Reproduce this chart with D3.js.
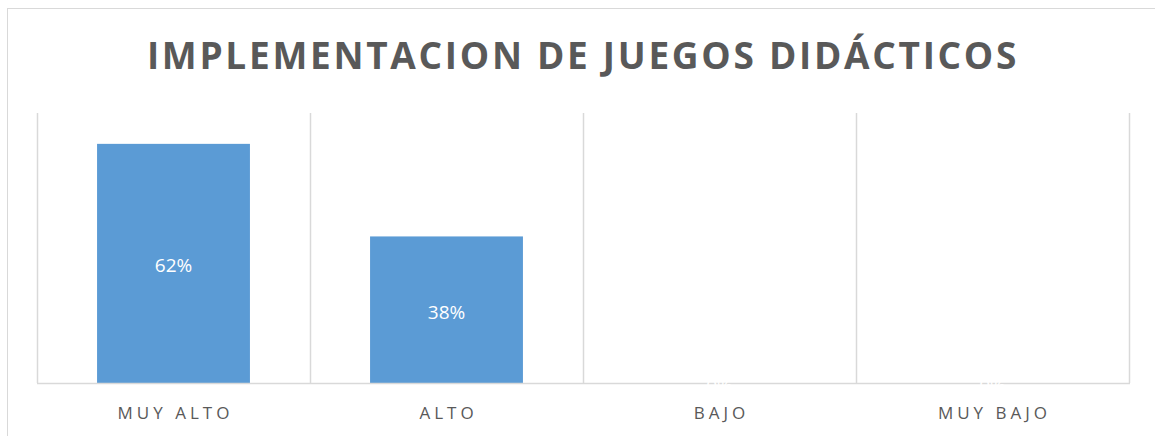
<!DOCTYPE html>
<html><head><meta charset="utf-8">
<script src="https://cdn.jsdelivr.net/npm/d3@7"></script>
<style>body{margin:0;background:#fff}svg{display:block}</style>
</head><body>
<script>
const categories = ["MUY ALTO", "ALTO", "BAJO", "MUY BAJO"];
const values = [0.62, 0.38, 0, 0];
const labels = ["62%", "38%", "0%", "0%"];
const title = "IMPLEMENTACION DE JUEGOS DIDÁCTICOS";
const yMax = 0.70;

(function () {
const W = 1155, H = 436;
const svg = d3.select("body").append("svg").attr("width", W).attr("height", H);
svg.append("rect").attr("x", 7.5).attr("y", 8.5).attr("width", W + 20).attr("height", H + 20)
  .attr("fill", "#fff").attr("stroke", "#d9d9d9").attr("stroke-width", 1);

const pLeft = 37, pRight = 1129, pTop = 113, pBottom = 383;
const x = d3.scaleBand().domain(categories).range([pLeft, pRight]).paddingInner(0.44).paddingOuter(0.22);
const xb = d3.scaleBand().domain(categories).range([pLeft, pRight]);
const y = d3.scaleLinear().domain([0, yMax]).range([pBottom, pTop]);

const bounds = categories.map(c => xb(c)).concat([pRight]);
svg.append("g").selectAll("line").data(bounds).join("line")
  .attr("x1", d => Math.round(d) + 0.5).attr("x2", d => Math.round(d) + 0.5)
  .attr("y1", pTop).attr("y2", pBottom)
  .attr("stroke", "#d9d9d9").attr("stroke-width", 1.5);

svg.append("g").selectAll("rect").data(categories).join("rect")
  .attr("x", c => x(c)).attr("width", x.bandwidth())
  .attr("y", (c, i) => y(values[i])).attr("height", (c, i) => y(0) - y(values[i]))
  .attr("fill", "#5b9bd5");

svg.append("line").attr("x1", pLeft).attr("x2", pRight + 1).attr("y1", pBottom + 0.5).attr("y2", pBottom + 0.5)
  .attr("stroke", "#d9d9d9").attr("stroke-width", 1.5);

svg.append("g").selectAll("text").data(categories).join("text")
  .attr("x", c => x(c) + x.bandwidth() / 2)
  .attr("y", (c, i) => (y(values[i]) + y(0)) / 2 + 9)
  .attr("text-anchor", "middle")
  .attr("font-family", "'Open Sans', sans-serif").attr("font-size", 19)
  .attr("fill", "#fff")
  .text((c, i) => labels[i]);

svg.append("g").selectAll("text").data(categories).join("text")
  .attr("x", c => xb(c) + xb.bandwidth() / 2 + 2)
  .attr("y", 419)
  .attr("text-anchor", "middle")
  .attr("font-family", "'Open Sans', sans-serif").attr("font-size", 17)
  .attr("letter-spacing", "4px")
  .attr("fill", "#595959")
  .text(c => c);

svg.append("text").attr("x", 583).attr("y", 69).attr("text-anchor", "middle")
  .attr("font-family", "'Open Sans', sans-serif").attr("font-size", 37).attr("font-weight", "bold")
  .attr("letter-spacing", "2.7px").attr("fill", "#595959")
  .text(title);
})();
</script>
</body></html>
